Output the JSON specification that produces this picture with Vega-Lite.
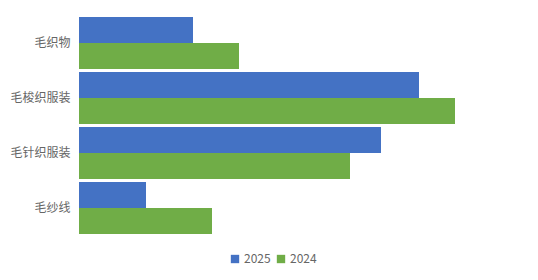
{
  "$schema": "https://vega.github.io/schema/vega-lite/v6.json",
  "autosize": "none",
  "width": 450,
  "height": 217,
  "padding": {"left": 79, "top": 17, "right": 9, "bottom": 46},
  "background": "#ffffff",
  "config": {
    "view": {"stroke": null},
    "font": "Noto Sans CJK SC"
  },
  "data": {
    "values": [
      {"category": "毛织物", "year": "2025", "value": 114},
      {"category": "毛织物", "year": "2024", "value": 160},
      {"category": "毛梭织服装", "year": "2025", "value": 340},
      {"category": "毛梭织服装", "year": "2024", "value": 376},
      {"category": "毛针织服装", "year": "2025", "value": 302},
      {"category": "毛针织服装", "year": "2024", "value": 271},
      {"category": "毛纱线", "year": "2025", "value": 67},
      {"category": "毛纱线", "year": "2024", "value": 133}
    ]
  },
  "mark": {"type": "bar"},
  "encoding": {
    "y": {
      "field": "category",
      "type": "nominal",
      "sort": ["毛织物", "毛梭织服装", "毛针织服装", "毛纱线"],
      "scale": {"paddingInner": 0.055, "paddingOuter": 0.0},
      "axis": {
        "title": null,
        "ticks": false,
        "domain": false,
        "labelColor": "#666666",
        "labelFontSize": 12,
        "labelPadding": 9,
        "labelFont": "Noto Sans CJK SC"
      }
    },
    "yOffset": {
      "field": "year",
      "type": "nominal",
      "sort": ["2025", "2024"],
      "scale": {"paddingInner": 0, "paddingOuter": 0}
    },
    "x": {
      "field": "value",
      "type": "quantitative",
      "scale": {"domain": [0, 450], "nice": false},
      "axis": null
    },
    "color": {
      "field": "year",
      "type": "nominal",
      "sort": ["2025", "2024"],
      "scale": {"domain": ["2025", "2024"], "range": ["#4472C4", "#70AD47"]},
      "legend": {
        "title": null,
        "orient": "none",
        "direction": "horizontal",
        "legendX": 150,
        "legendY": 236,
        "symbolType": "square",
        "symbolSize": 70,
        "symbolStrokeWidth": 0,
        "labelColor": "#666666",
        "labelFontSize": 12,
        "labelFont": "Noto Sans CJK SC",
        "columnPadding": 4,
        "labelOffset": 3
      }
    }
  }
}
